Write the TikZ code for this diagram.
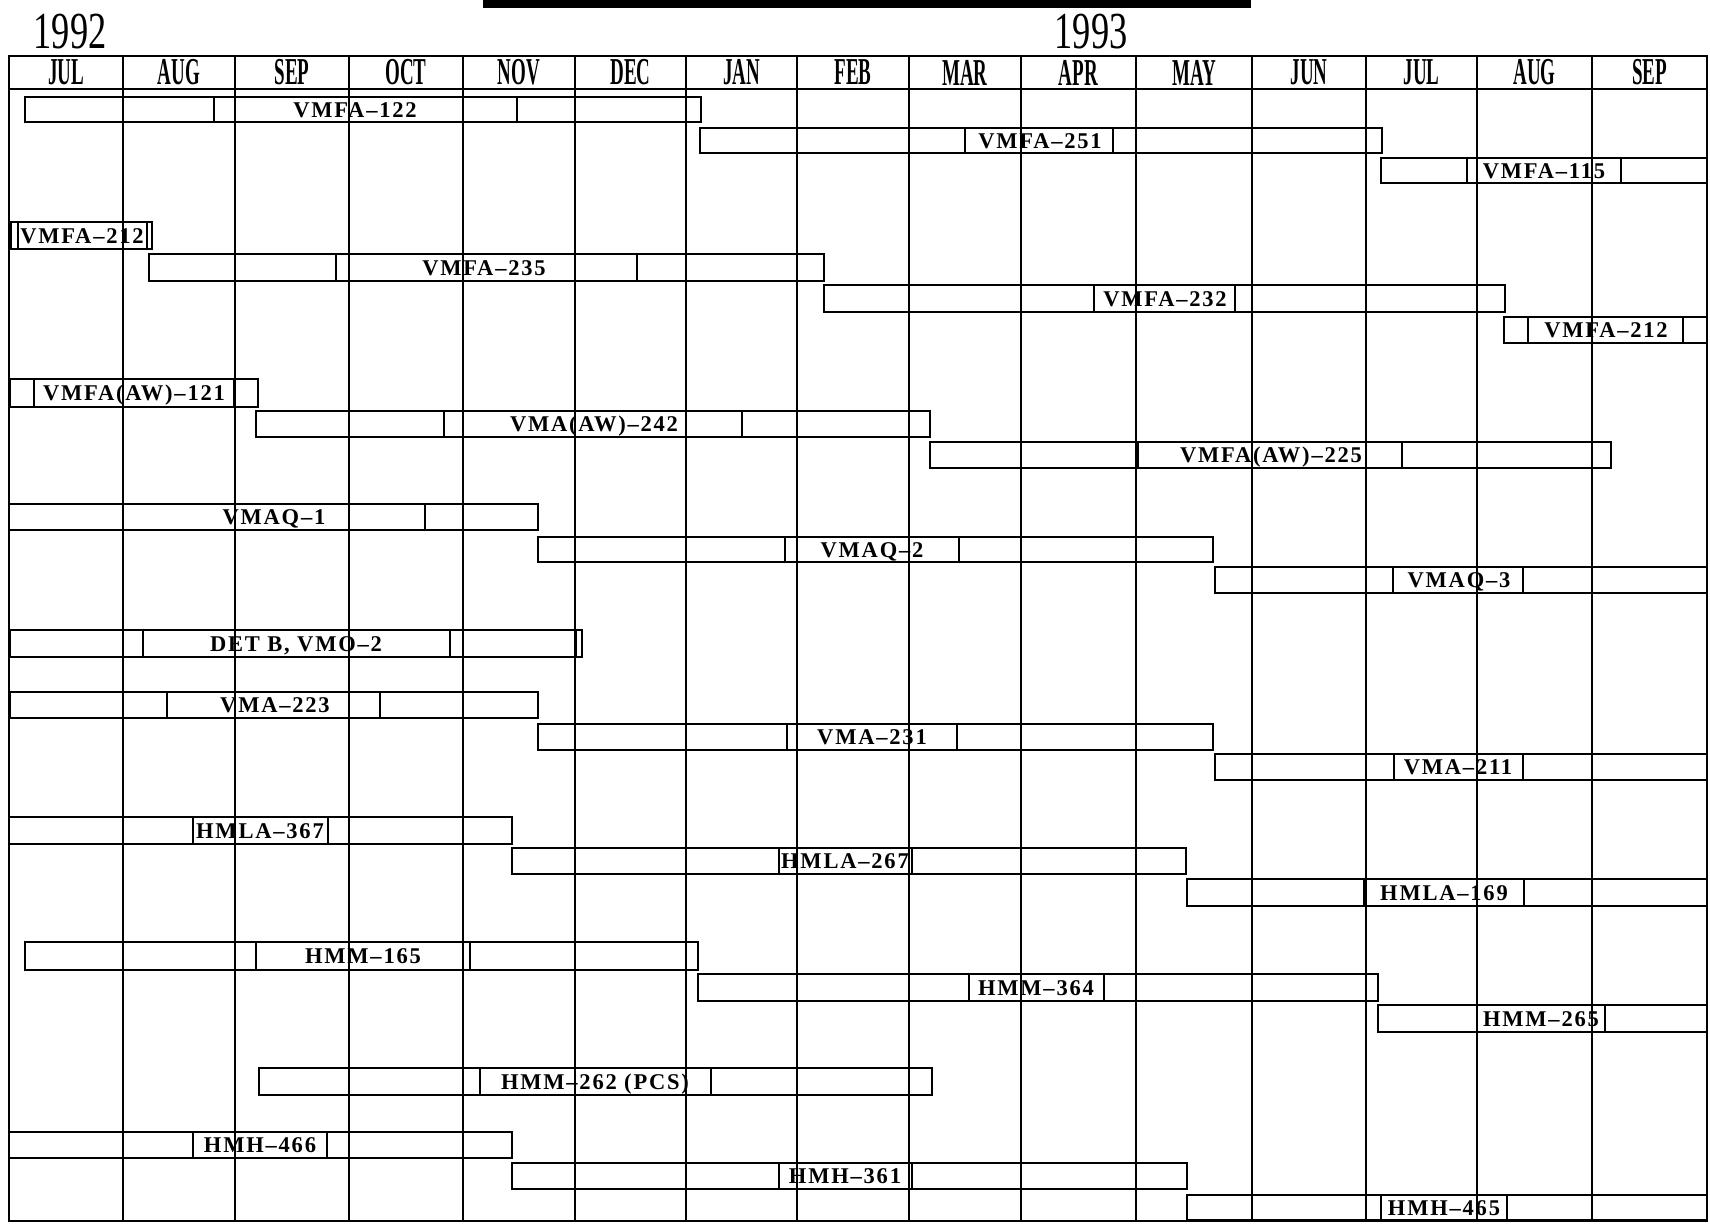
\documentclass[tikz,border=0pt]{standalone}
\usepackage{fontspec}
\setmainfont{Liberation Serif}
\newfontfamily\lblfont[LetterSpace=8]{Liberation Serif}
\tikzset{
  gridline/.style={line width=2.4pt, line cap=rect},
  barline/.style={line width=2pt},
  lbl/.style={anchor=base, inner sep=0pt, font=\lblfont\bfseries\fontsize{22.5}{24}\selectfont},
  monthlbl/.style={inner sep=0pt, font=\bfseries\fontsize{38}{40}\selectfont},
  yearlbl/.style={inner sep=0pt, font=\fontsize{52}{54}\selectfont},
}
\newcommand\gbar[9]{%
  \draw[barline] (#2,#4) rectangle (#3,#5);
  \draw[barline] (#6,#4) -- (#6,#5) (#7,#4) -- (#7,#5);
  \node[lbl] (#1) at (#9,{(#4+#5)/2+7.5}) {#8};
}
\begin{document}
\begin{tikzpicture}[x=1pt,y=-1pt]
\useasboundingbox (0,0) rectangle (1710,1223);
% title bar fragment
\fill (483,-1) rectangle (1251,8);
% years
\node[yearlbl] (y92) at (70,31.5) {\scalebox{0.7}[1]{1992}};
\node[yearlbl] (y93) at (1091,31.5) {\scalebox{0.7}[1]{1993}};
% months
\foreach \n/\c/\m in {1/66/JUL,2/179/AUG,3/292/SEP,4/406/OCT,5/519/NOV,6/630.5/DEC,7/741.5/JAN,8/853/FEB,9/965/MAR,10/1078.5/APR,11/1194/MAY,12/1309/JUN,13/1421.5/JUL,14/1534.5/AUG,15/1649.5/SEP}
  \node[monthlbl] (m\n) at (\c,72.5) {\scalebox{0.5}[1]{\m}};
% bars
\gbar{b1}{25}{701}{97}{122}{214}{517}{VMFA–122}{355}
\gbar{b2}{700}{1382}{128}{153}{965}{1113}{VMFA–251}{1040}
\gbar{b3}{1381}{1707}{158}{183}{1467}{1621}{VMFA–115}{1544}
\gbar{b4}{11}{152}{222}{249}{18}{147}{VMFA–212}{82}
\gbar{b5}{149}{824}{254}{281}{336}{637}{VMFA–235}{484}
\gbar{b6}{824}{1505}{285}{312}{1094}{1235}{VMFA–232}{1165}
\gbar{b7}{1504}{1707}{317}{343}{1528}{1683}{VMFA–212}{1606}
\gbar{b8}{10}{258}{379}{407}{34}{234}{VMFA(AW)–121}{134}
\gbar{b9}{256}{930}{411}{437}{444}{742}{VMA(AW)–242}{594}
\gbar{b10}{930}{1611}{442}{468}{1138}{1402}{VMFA(AW)–225}{1271}
\gbar{b11}{9}{538}{504}{530}{123}{425}{VMAQ–1}{274}
\gbar{b12}{538}{1213}{537}{562}{785}{959}{VMAQ–2}{872}
\gbar{b13}{1215}{1707}{567}{593}{1393}{1523}{VMAQ–3}{1459}
\gbar{b14}{10}{582}{630}{657}{143}{450}{DET B, VMO–2}{296}
\draw[barline] (576,630) -- (576,657);
\gbar{b15}{10}{538}{692}{718}{167}{380}{VMA–223}{275}
\gbar{b16}{538}{1213}{724}{750}{787}{957}{VMA–231}{872}
\gbar{b17}{1215}{1707}{754}{780}{1394}{1523}{VMA–211}{1458}
\gbar{b18}{9}{512}{817}{844}{193}{328}{HMLA–367}{260}
\gbar{b19}{512}{1186}{848}{874}{779}{912}{HMLA–267}{845}
\gbar{b20}{1187}{1707}{879}{906}{1364}{1524}{HMLA–169}{1444}
\gbar{b21}{25}{698}{942}{970}{256}{470}{HMM–165}{363}
\gbar{b22}{698}{1378}{974}{1001}{969}{1104}{HMM–364}{1036}
\gbar{b23}{1378}{1707}{1005}{1032}{1477}{1605}{HMM–265}{1541}
\gbar{b24}{259}{932}{1068}{1095}{480}{711}{HMM–262 (PCS)}{595}
\gbar{b25}{9}{512}{1132}{1158}{193}{327}{HMH–466}{260}
\gbar{b26}{512}{1187}{1163}{1189}{779}{912}{HMH–361}{845}
\gbar{b27}{1187}{1707}{1195}{1220}{1381}{1507}{HMH–465}{1444}
% grid
\foreach \x in {9,123,235,349,463,575,686,797,909,1021,1136,1252,1366,1477,1592,1707}
  \draw[gridline] (\x,56) -- (\x,1221);
\draw[gridline] (9,56) -- (1707,56);
\draw[gridline] (9,89) -- (1707,89);
\draw[gridline] (9,1221) -- (1707,1221);
\end{tikzpicture}
\end{document}
